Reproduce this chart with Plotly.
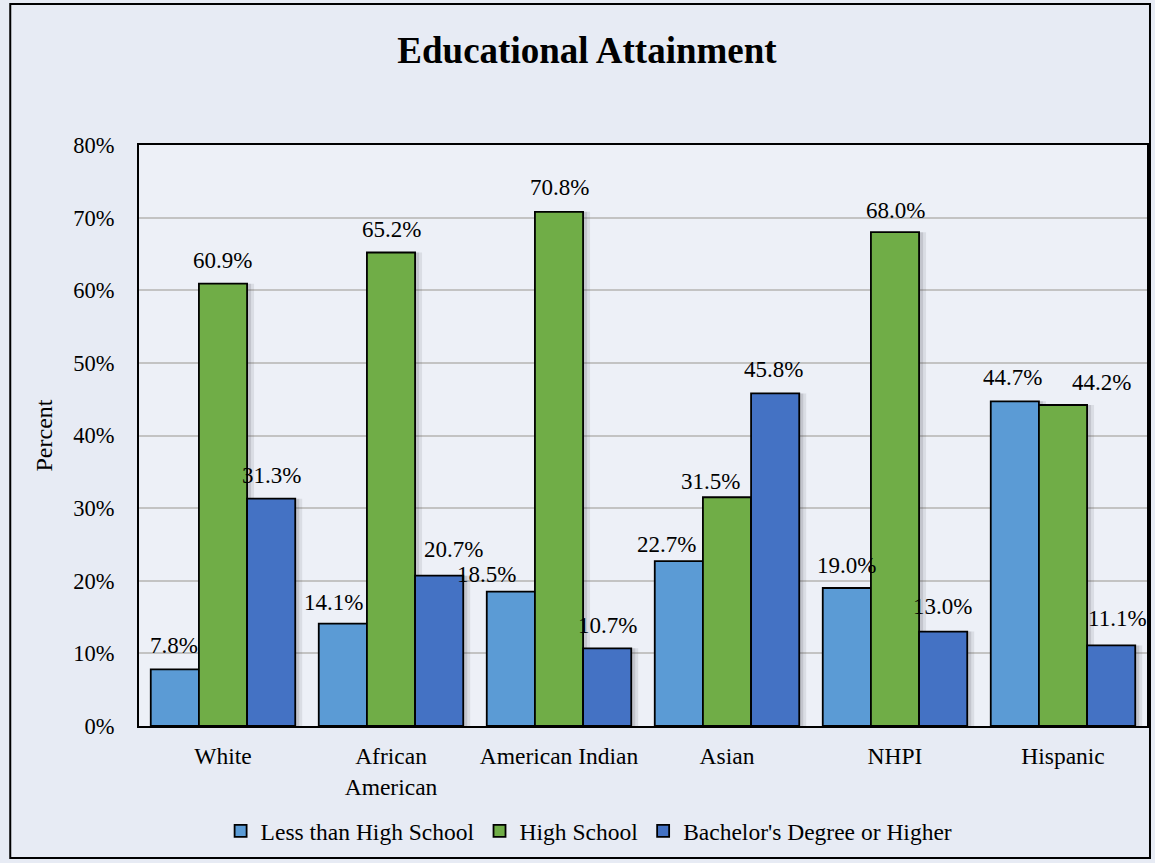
import plotly.graph_objects as go

# Educational attainment by race / ethnicity (percent of adults)
categories = ["White", "African<br>American", "American Indian", "Asian", "NHPI", "Hispanic"]
series_names = ["Less than High School", "High School", "Bachelor's Degree or Higher"]
less_than_hs = [7.8, 14.1, 18.5, 22.7, 19.0, 44.7]
high_school = [60.9, 65.2, 70.8, 31.5, 68.0, 44.2]
bachelors_plus = [31.3, 20.7, 10.7, 45.8, 13.0, 11.1]
y_ticks = [0, 10, 20, 30, 40, 50, 60, 70, 80]

series = [less_than_hs, high_school, bachelors_plus]
colors = ["#5B9BD5", "#70AD47", "#4472C4"]

# pixel nudges (right, up) for each value label so neighbours don't collide
label_nudges = [
    [(-1, 24), (-9, 21), (-24, 17), (-12, 17), (0, 23), (-2, 24)],
    [(-1, 23), (0, 23), (0, 24), (-17, 16), (0, 22), (38, 23)],
    [(0, 23), (14, 26), (0, 23), (-2, 24), (-1, 25), (6, 27)],
]

FONT = "Liberation Serif"
W, H = 1155, 863
L, R, T, B = 139, 6, 145, 137
plot_w, plot_h = W - L - R, H - T - B
BARGAP = 0.14
bar_w = (1 - BARGAP) / len(series)
unit_px = plot_w / len(categories)  # pixels per category slot

fig = go.Figure()

# soft drop shadows drawn first, offset a little to the right
for s, vals in enumerate(series):
    base_off = (s - 1.5) * bar_w
    for shift, alpha in [(7, 0.10), (4, 0.14)]:
        fig.add_trace(go.Bar(
            x=categories, y=vals, width=bar_w, offset=base_off + shift / unit_px,
            marker=dict(color=f"rgba(60,60,70,{alpha})", line=dict(width=0)),
            showlegend=False, hoverinfo="skip",
        ))

for s, (name, vals, col) in enumerate(zip(series_names, series, colors)):
    fig.add_trace(go.Bar(
        name=name, x=categories, y=vals, width=bar_w, offset=(s - 1.5) * bar_w,
        marker=dict(color=col, line=dict(color="black", width=1.8)),
    ))

# value labels above each bar
for s, vals in enumerate(series):
    offset = (s - 1) * bar_w
    for i, v in enumerate(vals):
        dx, dy = label_nudges[s][i]
        fig.add_annotation(
            x=i + offset, y=v, xref="x", yref="y",
            text=f"{v:.1f}%", showarrow=False,
            xanchor="center", yanchor="middle",
            xshift=dx, yshift=dy,
            font=dict(family=FONT, size=23, color="black"),
        )

# outer chart frame
def px_x(p):
    return (p - L) / plot_w

def px_y(p):
    return (H - B - p) / plot_h

fig.add_shape(type="rect", xref="paper", yref="paper",
              x0=px_x(10), x1=px_x(1152), y0=px_y(858), y1=px_y(4),
              line=dict(color="black", width=2), fillcolor="rgba(0,0,0,0)",
              layer="below")

fig.update_layout(
    width=W, height=H,
    margin=dict(l=L, r=R, t=T, b=B),
    paper_bgcolor="#E7EBF4",
    plot_bgcolor="#EDF0F7",
    barmode="overlay",
    font=dict(family=FONT, size=23, color="black"),
    title=dict(text="<b>Educational Attainment</b>", x=587 / W, xref="container",
               xanchor="center", y=1 - 50 / H, yref="container", yanchor="middle",
               font=dict(family=FONT, size=37, color="black")),
    legend=dict(orientation="h", x=px_x(590), xanchor="center",
                y=px_y(831), yanchor="middle",
                font=dict(family=FONT, size=23.5, color="black"),
                bgcolor="rgba(0,0,0,0)", itemwidth=30, tracegroupgap=0),
    showlegend=True,
)
fig.update_xaxes(
    range=[-0.5, len(categories) - 0.5],
    showline=True, mirror=True, linecolor="black", linewidth=2,
    ticks="outside", ticklen=0, ticklabelstandoff=8,
    tickfont=dict(family=FONT, size=23.5), showgrid=False,
)
fig.update_yaxes(
    range=[0, 80], tickvals=y_ticks, ticktext=[f"{t}%" for t in y_ticks],
    showline=True, mirror=True, linecolor="black", linewidth=2,
    showgrid=True, gridcolor="#C3C3C3", gridwidth=1.5, zeroline=False,
    ticks="outside", ticklen=0, ticklabelstandoff=18,
    tickfont=dict(family=FONT, size=22.5),
    title=dict(text="Percent", font=dict(family=FONT, size=24), standoff=14),
)

fig.write_html("out.html")
